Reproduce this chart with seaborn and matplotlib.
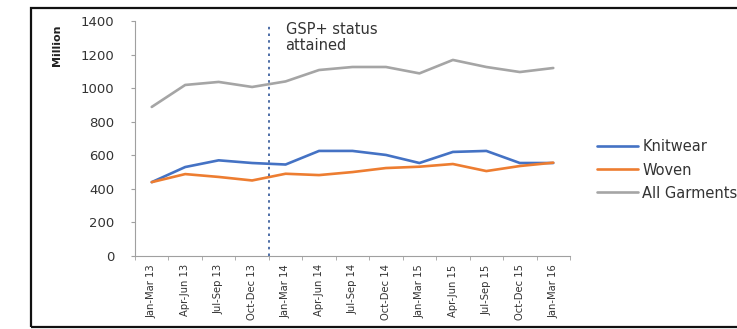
import matplotlib
matplotlib.use("Agg")
import matplotlib.pyplot as plt
import seaborn as sns
import pandas as pd
from matplotlib.patches import Rectangle

quarters = ["Jan-Mar 13", "Apr-Jun 13", "Jul-Sep 13", "Oct-Dec 13",
            "Jan-Mar 14", "Apr-Jun 14", "Jul-Sep 14", "Oct-Dec 14",
            "Jan-Mar 15", "Apr-Jun 15", "Jul-Sep 15", "Oct-Dec 15",
            "Jan-Mar 16"]
knitwear = [440, 530, 570, 554, 545, 626, 626, 602, 554, 620, 626, 554, 554]
woven = [440, 488, 471, 450, 490, 482, 500, 524, 532, 548, 506, 536, 556]
all_garments = [888, 1019, 1037, 1007, 1040, 1108, 1126, 1126, 1088, 1168, 1126, 1096, 1120]
series_names = ["Knitwear", "Woven", "All Garments"]
colors = ["#4472C4", "#ED7D31", "#A5A5A5"]

df = pd.DataFrame({
    "quarter": quarters * 3,
    "pos": list(range(len(quarters))) * 3,
    "value": knitwear + woven + all_garments,
    "series": [series_names[0]] * len(quarters)
              + [series_names[1]] * len(quarters)
              + [series_names[2]] * len(quarters),
})

sns.set_style("white")
plt.rcParams["font.family"] = ["DejaVu Sans"]

W, H = 737, 329
fig = plt.figure(figsize=(W / 100, H / 100), dpi=100)
ax = fig.add_axes([135 / W, 73 / H, (570 - 135) / W, (256 - 21) / H])

sns.lineplot(data=df, x="pos", y="value", hue="series", hue_order=series_names,
             palette=colors, linewidth=1.9, ax=ax, legend=True)

ax.set_xlim(-0.5, len(quarters) - 0.5)
ax.set_ylim(0, 1400)
ax.set_yticks(range(0, 1401, 200))
ax.set_xticks(range(len(quarters)))
ax.set_xticklabels(quarters, rotation=90, fontsize=7.2, color="#333333")
ax.set_xticks([i - 0.5 for i in range(len(quarters) + 1)], minor=True)
ax.tick_params(axis="x", which="major", length=0, pad=6)
ax.tick_params(axis="x", which="minor", length=3, color="#A0A0A0", direction="out")
ax.tick_params(axis="y", length=3, color="#A0A0A0", direction="out", pad=12,
               labelsize=9.5, labelcolor="#333333")
ax.tick_params(axis="both", bottom=True, left=True, which="both")
ax.set_xlabel("")
ax.set_ylabel("")
for s in ["top", "right"]:
    ax.spines[s].set_visible(False)
for s in ["left", "bottom"]:
    ax.spines[s].set_color("#A0A0A0")
    ax.spines[s].set_linewidth(0.8)

fig.text(57 / W, 1 - 45 / H, "Million", rotation=90, ha="center", va="center",
         fontsize=8, fontweight="bold", color="#222222")

ax.axvline(3.5, ymin=0, ymax=0.985, color="#2F5597", linestyle=(0, (1.5, 2.5)),
           linewidth=1.2)
ax.text(4.0, 1395, "GSP+ status\nattained", ha="left", va="top", fontsize=10.5,
        color="#333333", linespacing=1.1)

handles, labels = ax.get_legend_handles_labels()
ax.get_legend().remove()
fig.legend(handles, labels, loc="center left",
           bbox_to_anchor=(597 / W, 1 - 170 / H), frameon=False,
           fontsize=10.5, handlelength=2.8, handletextpad=0.3,
           labelspacing=0.55, borderpad=0, borderaxespad=0,
           labelcolor="#333333")

fig.patches.append(Rectangle((31 / W, 2 / H), (W + 10 - 31) / W, (319) / H,
                             transform=fig.transFigure, fill=False,
                             edgecolor="#111111", linewidth=1.6))

fig.savefig("out.png", dpi=100)
